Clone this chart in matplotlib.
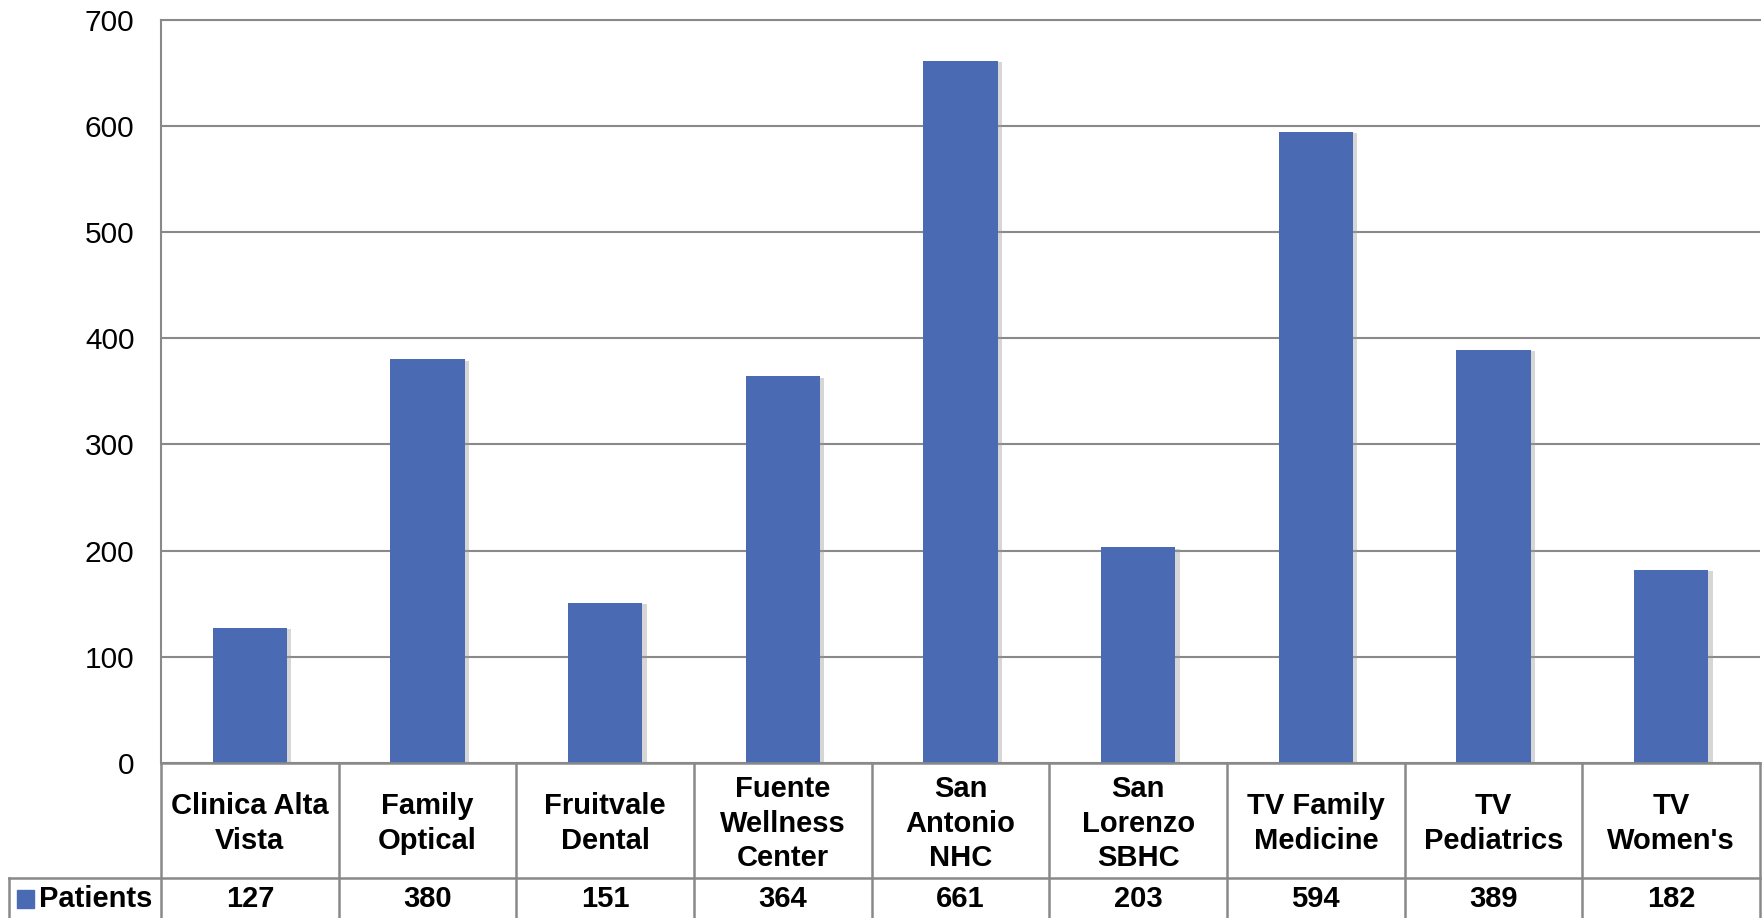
import matplotlib
matplotlib.use("Agg")
import matplotlib.pyplot as plt
import matplotlib.patheffects as pe
from matplotlib.transforms import blended_transform_factory
import numpy as np

plt.rcParams['font.family'] = ['Liberation Sans', 'DejaVu Sans']

sites = ["Clinica Alta\nVista", "Family\nOptical", "Fruitvale\nDental",
         "Fuente\nWellness\nCenter", "San\nAntonio\nNHC", "San\nLorenzo\nSBHC",
         "TV Family\nMedicine", "TV\nPediatrics", "TV\nWomen's"]
patients = [127, 380, 151, 364, 661, 203, 594, 389, 182]
series_name = "Patients"

bar_color = "#4A6BB3"
line_color = "#898989"

W, H = 1764, 918
fig = plt.figure(figsize=(W / 100, H / 100), dpi=100)
ax = fig.add_axes([161 / W, 1 - 763 / H, (1760 - 161) / W, (763 - 19.5) / H])

x = np.arange(len(sites)) + 0.5
bars = ax.bar(x, patients, width=0.42, color=bar_color, zorder=3)
for b in bars:
    b.set_path_effects([pe.SimplePatchShadow(offset=(3, -1), shadow_rgbFace="#999999", alpha=0.4),
                        pe.Normal()])

ax.set_xlim(0, len(sites))
ax.set_ylim(0, 700)
ax.set_yticks(range(0, 701, 100))
ax.yaxis.grid(True, color=line_color, linewidth=1.5, zorder=0)
ax.set_xticks([])
ax.tick_params(axis="y", length=0, pad=19, labelsize=21.5)
for s in ["right", "bottom"]:
    ax.spines[s].set_visible(False)
ax.spines["left"].set_color(line_color)
ax.spines["left"].set_linewidth(1.5)
ax.spines["top"].set_color(line_color)
ax.spines["top"].set_linewidth(1.5)

# data table below the plot
tr = blended_transform_factory(ax.transData, fig.transFigure)
y_top = 1 - 763 / H
y_mid = 1 - 878 / H
y_bot = 0.0
x_leg = -152 / ((1760 - 161) / len(sites))
lw = 1.8

def hline(x0, x1, y):
    ax.plot([x0, x1], [y, y], transform=tr, color=line_color, lw=lw, clip_on=False, zorder=5)

def vline(xx, y0, y1):
    ax.plot([xx, xx], [y0, y1], transform=tr, color=line_color, lw=lw, clip_on=False, zorder=5)

hline(0, len(sites), y_top)
hline(x_leg, len(sites), y_mid)
for i in range(len(sites) + 1):
    vline(i, y_bot, y_top)
vline(x_leg, y_bot, y_mid)

for i, (name, val) in enumerate(zip(sites, patients)):
    ax.text(i + 0.5, (y_top + y_mid) / 2 - 3 / H, name, transform=tr, ha="center", va="center",
            fontsize=21, fontweight="bold", linespacing=1.3)
    ax.text(i + 0.5, 1 - 899 / H, str(val), transform=tr, ha="center", va="center",
            fontsize=21, fontweight="bold")

ax.add_patch(plt.Rectangle((17 / W, 1 - 908 / H), 17 / W, 18 / H, transform=fig.transFigure,
                           color=bar_color, clip_on=False))
fig.text(39 / W, 1 - 899 / H, series_name, ha="left", va="center",
         fontsize=21, fontweight="bold")

fig.savefig("out.png", dpi=100)
